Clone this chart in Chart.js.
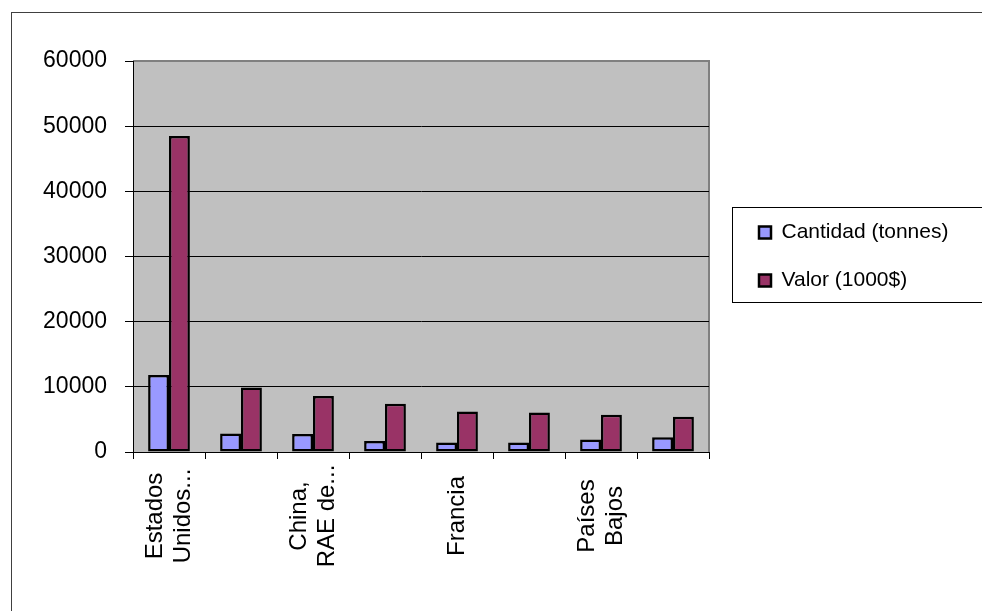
<!DOCTYPE html>
<html>
<head>
<meta charset="utf-8">
<script src="https://cdn.jsdelivr.net/npm/chart.js@4/dist/chart.umd.min.js"></script>
<style>
  html, body { margin: 0; padding: 0; background: #fff; }
  canvas { display: block; }
</style>
</head>
<body>
<canvas id="exportChart" width="982" height="611"></canvas>
<script>
// categorías (solo algunas etiquetas se muestran en el eje)
const categories = [['Estados', 'Unidos...'], '', ['China,', 'RAE de...'], '', 'Francia', '', ['Países', 'Bajos'], ''];
const cantidad = [11800, 2850, 2750, 1700, 1450, 1450, 1900, 2250];
const valor = [48500, 9900, 8600, 7400, 6200, 6050, 5700, 5400];
const yTicks = [0, 10000, 20000, 30000, 40000, 50000, 60000];
const seriesNames = ['Cantidad (tonnes)', 'Valor (1000$)'];

const FONT = 'Arial, "Liberation Sans", sans-serif';

// fondo blanco, marco exterior y área de trazado gris
const frame = {
  id: 'frame',
  beforeDraw(chart) {
    const { ctx, chartArea: a } = chart;
    ctx.save();
    ctx.fillStyle = '#fff';
    ctx.fillRect(0, 0, chart.width, chart.height);
    ctx.strokeStyle = '#404040';
    ctx.lineWidth = 1;
    ctx.strokeRect(11.5, 12.5, chart.width + 20, chart.height + 20);
    ctx.fillStyle = '#c0c0c0';
    ctx.fillRect(a.left, a.top, a.right - a.left, a.bottom - a.top);
    ctx.strokeStyle = '#808080';
    ctx.lineWidth = 2;
    ctx.beginPath();
    ctx.moveTo(a.left, a.top);
    ctx.lineTo(a.right, a.top);
    ctx.lineTo(a.right, a.bottom);
    ctx.stroke();
    ctx.restore();
  }
};

// la leyenda va a la derecha del área de trazado, con recuadro
const legendBox = {
  id: 'legendBox',
  afterLayout(chart) {
    const lg = chart.legend;
    const a = chart.chartArea;
    lg.left = a.right + 23;
    lg.right = lg.left + lg.width;
    lg.top = a.top;
    lg.bottom = a.bottom;
    lg.height = a.bottom - a.top;
  },
  afterDraw(chart) {
    const lg = chart.legend;
    const cy = (lg.top + lg.bottom) / 2;
    const ctx = chart.ctx;
    ctx.save();
    ctx.strokeStyle = '#000';
    ctx.lineWidth = 1;
    ctx.strokeRect(Math.round(lg.left) + 0.5, Math.round(cy - 50) + 0.5, chart.width, 95);
    ctx.restore();
  }
};

// etiquetas verticales del eje X, centradas en cada categoría
const xLabels = {
  id: 'xLabels',
  afterDraw(chart) {
    const sx = chart.scales.x;
    const ctx = chart.ctx;
    ctx.save();
    ctx.font = '24px ' + FONT;
    ctx.fillStyle = '#000';
    ctx.textAlign = 'center';
    ctx.textBaseline = 'middle';
    const centerY = sx.top + 64;
    categories.forEach((lab, i) => {
      const lines = [].concat(lab).filter(s => s);
      if (!lines.length) return;
      const x = sx.getPixelForTick(i);
      lines.forEach((line, j) => {
        ctx.save();
        ctx.translate(x + (j - (lines.length - 1) / 2) * 28, centerY);
        ctx.rotate(-Math.PI / 2);
        ctx.fillText(line, 0, 0);
        ctx.restore();
      });
    });
    ctx.restore();
  }
};

new Chart(document.getElementById('exportChart'), {
  type: 'bar',
  data: {
    labels: categories,
    datasets: [{
      label: seriesNames[0],
      data: cantidad,
      backgroundColor: '#9999ff',
      borderColor: '#000',
      borderWidth: 2.5,
      borderSkipped: false,
      categoryPercentage: 0.58,
      barPercentage: 1.0
    }, {
      label: seriesNames[1],
      data: valor,
      backgroundColor: '#993366',
      borderColor: '#000',
      borderWidth: 2.5,
      borderSkipped: false,
      categoryPercentage: 0.58,
      barPercentage: 1.0
    }]
  },
  options: {
    responsive: false,
    animation: false,
    layout: { padding: { top: 61, right: 273, bottom: 0, left: 0 } },
    scales: {
      x: {
        afterFit: s => { s.height = 159; },
        ticks: { display: false },
        grid: {
          drawOnChartArea: false,
          drawTicks: true,
          tickLength: 7,
          tickColor: '#000'
        },
        border: { color: '#000', width: 1 }
      },
      y: {
        min: 0,
        max: 60000,
        afterFit: s => { s.width = 133; },
        afterBuildTicks: s => { s.ticks = yTicks.map(v => ({ value: v })); },
        ticks: {
          color: '#000',
          padding: 18,
          font: { family: FONT, size: 23 },
          callback: v => String(v)
        },
        grid: {
          color: c => (c.tick && c.tick.value === 60000) ? '#808080' : '#000',
          lineWidth: 1,
          tickLength: 8,
          tickColor: '#000'
        },
        border: { color: '#000', width: 1 }
      }
    },
    plugins: {
      legend: {
        position: 'chartArea',
        align: 'center',
        labels: {
          color: '#000',
          boxWidth: 12,
          boxHeight: 12,
          padding: 27,
          font: { family: FONT, size: 21 }
        }
      },
      tooltip: { enabled: false }
    }
  },
  plugins: [frame, legendBox, xLabels]
});
</script>
</body>
</html>
